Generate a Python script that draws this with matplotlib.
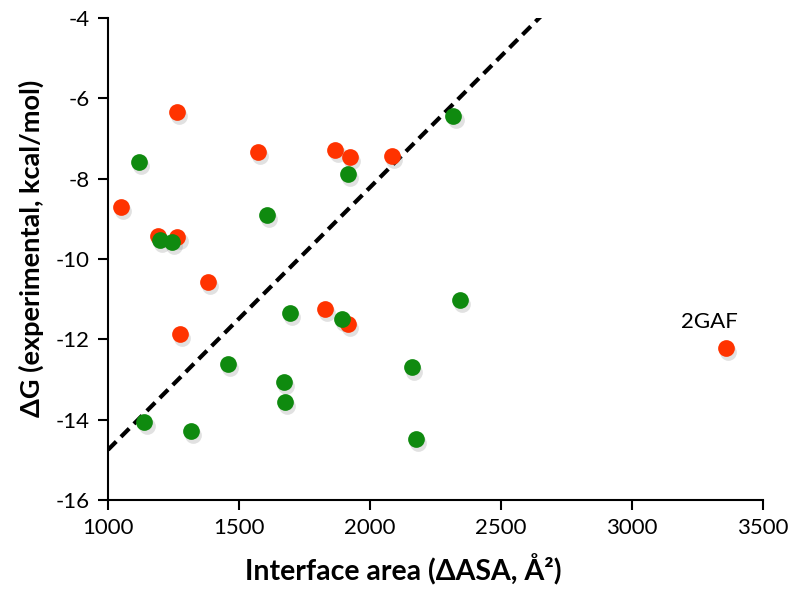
import numpy as np
import matplotlib
matplotlib.use("Agg")
import matplotlib.pyplot as plt
import matplotlib.transforms as mtransforms

# --- data ---
red_x = [1048, 1192, 1265, 1264, 1275, 1383, 1571, 1828, 1868, 1917, 1924, 2083, 3357]
red_y = [-8.70, -9.43, -9.45, -6.33, -11.86, -10.58, -7.33, -11.24, -7.29, -11.62, -7.46, -7.44, -12.22]

green_x = [1118, 1139, 1198, 1243, 1317, 1459, 1608, 1671, 1676, 1695, 1892, 1916, 2159, 2176, 2318, 2344]
green_y = [-7.59, -14.06, -9.53, -9.58, -14.28, -12.61, -8.91, -13.07, -13.55, -11.35, -11.49, -7.88, -12.70, -14.48, -6.43, -11.02]

# dashed trend line: y = slope * x + intercept
fit_slope = 0.006535
fit_intercept = -21.285
fit_range = [1000, 2700]

outlier_label = "2GAF"
outlier_xy = (3357, -12.22)

x_ticks = [1000, 1500, 2000, 2500, 3000, 3500]
y_ticks = [-16, -14, -12, -10, -8, -6, -4]

RED = "#ff3300"
GREEN = "#0f8a0f"

plt.rcParams['font.family'] = ['Lato', 'DejaVu Sans']

fig = plt.figure(figsize=(8, 5.92), dpi=100)
ax = fig.add_axes([0.135, 0.1554, 0.819, 0.8142])

fx = np.array(fit_range, dtype=float)
ax.plot(fx, fit_slope * fx + fit_intercept, color="black", linestyle=(0, (2.8, 1.6)),
        linewidth=3, zorder=2)

# soft drop shadow under the dots
shadow = mtransforms.offset_copy(ax.transData, fig=fig, x=1.5, y=-3, units="points")
for xs, ys in [(red_x, red_y), (green_x, green_y)]:
    ax.scatter(xs, ys, s=145, color="#888888", alpha=0.25, linewidths=0,
               transform=shadow, zorder=3)

ax.scatter(red_x, red_y, s=145, color=RED, linewidths=0, zorder=4)
ax.scatter(green_x, green_y, s=145, color=GREEN, linewidths=0, zorder=5)

ax.annotate(outlier_label, xy=outlier_xy, xytext=(-12, 12), textcoords="offset points",
            ha="center", va="bottom", fontsize=16)

ax.set_xlim(1000, 3500)
ax.set_ylim(-16, -4)
ax.set_xticks(x_ticks)
ax.set_yticks(y_ticks)
ax.set_xticklabels([str(t) for t in x_ticks])
ax.set_yticklabels([str(t) for t in y_ticks])

for side in ["top", "right"]:
    ax.spines[side].set_visible(False)
for side in ["left", "bottom"]:
    ax.spines[side].set_linewidth(1.5)
ax.tick_params(axis="both", direction="out", length=7, width=1.5, labelsize=16, pad=6)

ax.set_xlabel("Interface area (ΔASA, Å²)", fontsize=20.5, fontweight="bold")
ax.set_ylabel("ΔG (experimental, kcal/mol)", fontsize=19.5, fontweight="bold")
ax.xaxis.set_label_coords(0.45, -0.112)
ax.yaxis.set_label_coords(-0.098, 0.523)

fig.savefig("out.png", dpi=100)
